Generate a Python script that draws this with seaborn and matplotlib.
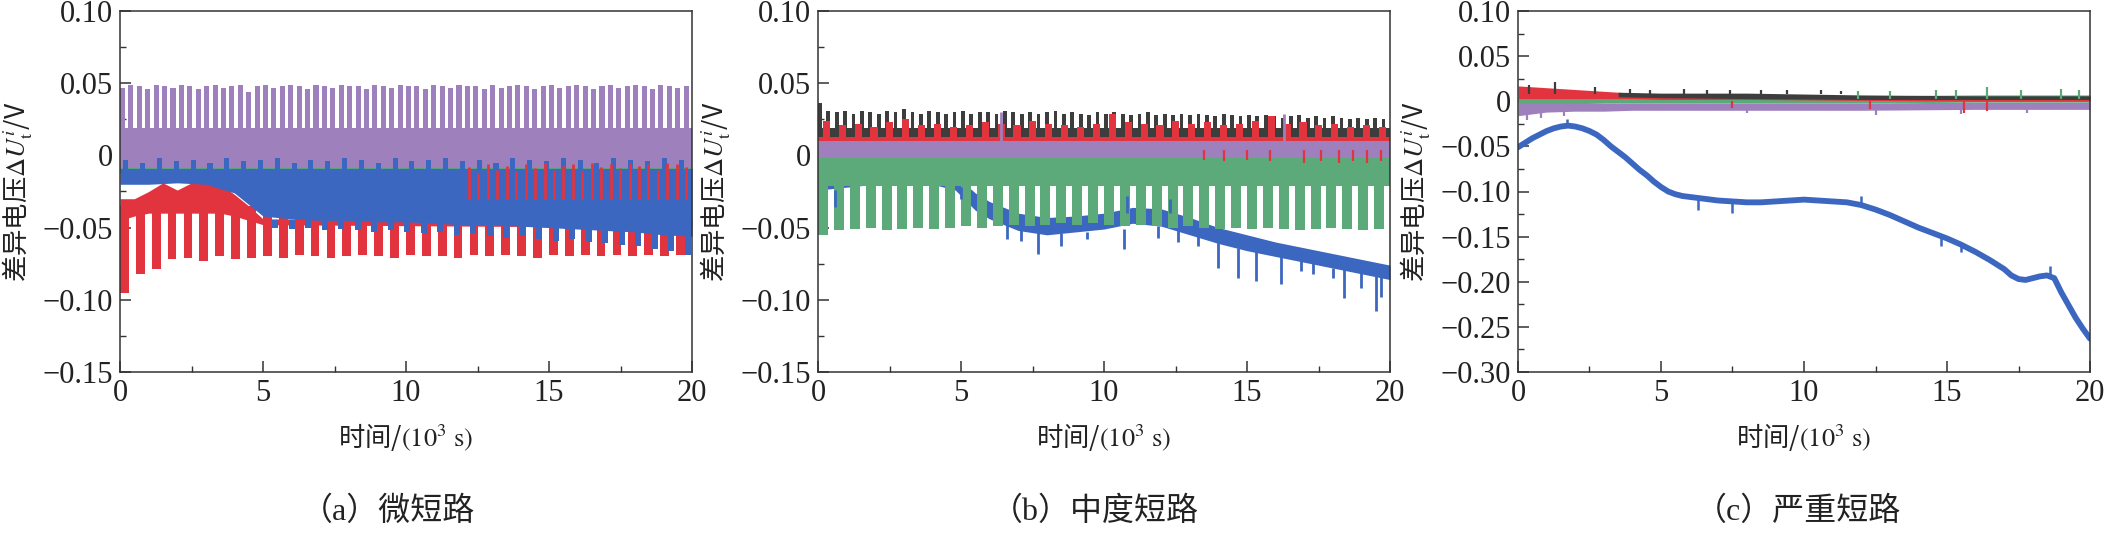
import numpy as np
import matplotlib
matplotlib.use('Agg')
import matplotlib.pyplot as plt
import seaborn as sns
from matplotlib.ticker import MultipleLocator, FuncFormatter
from matplotlib.font_manager import FontProperties

# ---------------- data (time in 10^3 s, voltage in V) ----------------
PURPLE = '#9d80bc'
BLUE = '#3c67c0'
RED = '#e2343f'
GREEN = '#5caa79'
BLACK = '#3d3d3d'

T21 = list(range(21))

# (a) micro short circuit
a_purple_lo = -0.009
a_purple_hi = 0.019
a_purple_peak = [
    0.047, 0.049, 0.048, 0.046, 0.049, 0.048, 0.047, 0.049, 0.048, 0.046,
    0.048, 0.049, 0.047, 0.048, 0.049, 0.044, 0.048, 0.049, 0.047, 0.048,
    0.049, 0.048, 0.046, 0.049, 0.048, 0.047, 0.049, 0.048, 0.048, 0.046,
    0.049, 0.048, 0.047, 0.049, 0.048, 0.048, 0.046, 0.049, 0.048, 0.047,
    0.049, 0.048, 0.048, 0.046, 0.049, 0.047, 0.048, 0.049, 0.048, 0.046,
    0.048, 0.049, 0.047, 0.048, 0.049, 0.048, 0.046, 0.048, 0.049, 0.047,
    0.048, 0.049, 0.048, 0.046, 0.049, 0.048, 0.047, 0.048]
a_blue_hi = -0.009
a_blue_lo = [-0.020, -0.020, -0.019, -0.020, -0.026, -0.042, -0.044, -0.045, -0.045, -0.046,
             -0.046, -0.047, -0.048, -0.048, -0.049, -0.050, -0.051, -0.052, -0.053, -0.055, -0.056]
a_blue_tip = [
    -0.003, -0.005, -0.002, -0.004, -0.003, -0.005, -0.002, -0.004, -0.003, -0.002,
    -0.005, -0.003, -0.004, -0.002, -0.003, -0.005, -0.002, -0.004, -0.003, -0.002,
    -0.004, -0.003, -0.005, -0.002, -0.003, -0.004, -0.002, -0.003, -0.005, -0.002,
    -0.003, -0.004, -0.002, -0.003]
a_blue_comb = [
    -0.050, -0.051, -0.050, -0.052, -0.051, -0.052, -0.053, -0.052, -0.053, -0.054,
    -0.053, -0.055, -0.054, -0.056, -0.057, -0.056, -0.058, -0.059, -0.058, -0.060,
    -0.061, -0.062, -0.063, -0.065, -0.066, -0.069]
a_red_t = [0, 0.5, 1, 1.5, 2, 2.5, 3, 3.5, 4, 4.5, 5, 20]
a_red_hi = [-0.030, -0.030, -0.025, -0.019, -0.024, -0.019, -0.019, -0.020, -0.027, -0.035, -0.044, -0.044]
a_red_lo = [-0.045, -0.042, -0.040, -0.040, -0.040, -0.040, -0.040, -0.040, -0.042, -0.045, -0.048, -0.050]
a_red_comb = [
    -0.095, -0.082, -0.079, -0.072, -0.071, -0.073, -0.070, -0.072, -0.071, -0.070,
    -0.071, -0.069, -0.070, -0.071, -0.070, -0.069, -0.070, -0.071, -0.069, -0.070,
    -0.070, -0.071, -0.069, -0.070, -0.069, -0.070, -0.071, -0.069, -0.070, -0.069,
    -0.070, -0.069, -0.070, -0.069, -0.070, -0.069]
a_red_up = [
    -0.008, -0.012, -0.006, -0.010, -0.007, -0.011, -0.006, -0.009, -0.005, -0.010,
    -0.007, -0.006, -0.011, -0.005, -0.008, -0.006, -0.009, -0.005, -0.007, -0.006,
    -0.010, -0.005, -0.006, -0.008]
a_green_lo, a_green_hi = -0.012, -0.003
a_black_lo, a_black_hi = -0.010, -0.004

# (b) moderate short circuit
b_black_lo, b_black_hi = 0.011, 0.019
b_black_peak = [
    0.036, 0.031, 0.030, 0.031, 0.029, 0.031, 0.030, 0.029, 0.031, 0.030,
    0.032, 0.030, 0.029, 0.031, 0.030, 0.029, 0.030, 0.031, 0.029, 0.030,
    0.030, 0.029, 0.031, 0.030, 0.029, 0.030, 0.029, 0.030, 0.031, 0.029,
    0.030, 0.029, 0.028, 0.030, 0.029, 0.030, 0.029, 0.028, 0.029, 0.030,
    0.028, 0.029, 0.028, 0.029, 0.028, 0.029, 0.028, 0.027, 0.029, 0.028,
    0.027, 0.028, 0.027, 0.028, 0.027, 0.026, 0.027, 0.028, 0.026, 0.027,
    0.026, 0.027, 0.026, 0.025, 0.026, 0.025, 0.026, 0.025]
b_red_lo, b_red_hi = 0.004, 0.013
b_red_peak = [
    0.024, 0.021, 0.022, 0.020, 0.023, 0.025, 0.021, 0.022, 0.020, 0.021,
    0.023, 0.022, 0.021, 0.024, 0.022, 0.021, 0.020, 0.022, 0.029, 0.023,
    0.022, 0.021, 0.024, 0.022, 0.023, 0.021, 0.022, 0.024, 0.027, 0.022,
    0.023, 0.021, 0.022, 0.020, 0.021, 0.020]
b_red_dip_t = [13.5, 14.2, 15.0, 15.8, 17.0, 17.6, 18.2, 18.7, 19.2, 19.7]
b_red_dip_v = [-0.003, -0.004, -0.003, -0.004, -0.005, -0.004, -0.005, -0.004, -0.005, -0.004]
b_purple_lo, b_purple_hi = -0.002, 0.010
b_purple_spike_t = [6.4, 16.3]
b_purple_spike_v = [0.030, 0.029]
b_green_lo, b_green_hi = -0.021, -0.001
b_green_peak = [
    -0.055, -0.052, -0.051, -0.050, -0.052, -0.051, -0.050, -0.051, -0.050, -0.049,
    -0.050, -0.049, -0.048, -0.049, -0.048, -0.047, -0.048, -0.047, -0.048, -0.049,
    -0.048, -0.049, -0.050, -0.049, -0.050, -0.051, -0.050, -0.051, -0.050, -0.051,
    -0.052, -0.051, -0.050, -0.051, -0.052, -0.051]
b_blue_t = [0, 1, 2, 3, 4, 4.8, 5.5, 6, 7, 8, 9, 10, 11, 12, 13, 14, 15, 16, 17, 18, 19, 20]
b_blue_hi = [-0.012, -0.012, -0.012, -0.012, -0.012, -0.014, -0.026, -0.032, -0.040, -0.043, -0.042,
             -0.040, -0.036, -0.037, -0.043, -0.050, -0.055, -0.060, -0.064, -0.068, -0.072, -0.076]
b_blue_lo = [-0.024, -0.022, -0.020, -0.020, -0.020, -0.024, -0.038, -0.044, -0.052, -0.055, -0.053,
             -0.051, -0.047, -0.049, -0.055, -0.061, -0.066, -0.070, -0.074, -0.078, -0.082, -0.086]
b_blue_spike_t = [0.6, 5.0, 6.6, 7.1, 7.7, 8.5, 9.4, 10.7, 10.8, 11.9, 12.3, 12.6, 13.3, 14.0,
                  14.7, 15.3, 16.2, 16.9, 17.3, 18.0, 18.4, 19.0, 19.5, 19.7]
b_blue_spike_a = [-0.024, -0.030, -0.044, -0.048, -0.052, -0.054, -0.053, -0.051, -0.040, -0.049,
                  -0.040, -0.050, -0.054, -0.060, -0.064, -0.066, -0.070, -0.072, -0.074, -0.078,
                  -0.079, -0.081, -0.083, -0.084]
b_blue_spike_b = [-0.036, -0.022, -0.058, -0.059, -0.068, -0.063, -0.058, -0.065, -0.028, -0.057,
                  -0.030, -0.060, -0.063, -0.078, -0.085, -0.087, -0.089, -0.080, -0.082, -0.085,
                  -0.099, -0.092, -0.108, -0.098]

# (c) severe short circuit
T_C = [0, 1, 2, 3, 4, 5, 8, 12, 16, 20]
c_red_lo = [0.003, 0.003, 0.003, 0.003, 0.003, 0.002, 0.002, 0.001, 0.000, 0.000]
c_red_hi = [0.017, 0.015, 0.013, 0.011, 0.009, 0.007, 0.006, 0.005, 0.005, 0.005]
c_red_dip_t = [7.5, 12.3, 15.6, 16.4]
c_red_dip_v = [-0.008, -0.009, -0.013, -0.011]
c_black_t = [3.5, 5, 8, 12, 16, 20]
c_black_lo = [0.005, 0.004, 0.003, 0.002, 0.002, 0.002]
c_black_hi = [0.010, 0.009, 0.009, 0.007, 0.006, 0.006]
c_black_spike_t = [0.4, 1.3, 2.7, 3.9, 4.6, 5.8, 6.6, 7.4, 8.5, 9.4, 10.6, 11.3]
c_black_spike_v = [0.018, 0.021, 0.016, 0.014, 0.013, 0.014, 0.013, 0.012, 0.013, 0.012, 0.012, 0.011]
c_green_lo = [-0.002, -0.002, -0.002, -0.002, -0.002, -0.002, -0.002, -0.002, -0.001, -0.001]
c_green_hi = [0.004, 0.004, 0.004, 0.004, 0.004, 0.004, 0.005, 0.006, 0.007, 0.007]
c_green_spike_t = [11.9, 13.0, 14.6, 15.3, 16.4, 17.6, 19.0, 19.6]
c_green_spike_v = [0.011, 0.011, 0.012, 0.013, 0.016, 0.012, 0.014, 0.012]
c_purple_lo = [-0.016, -0.012, -0.011, -0.011, -0.010, -0.010, -0.010, -0.010, -0.009, -0.009]
c_purple_hi = [-0.001, -0.001, -0.001, -0.002, -0.002, -0.002, -0.002, -0.002, -0.001, -0.001]
c_purple_dip_t = [0.3, 0.8, 1.6, 8.0, 12.5, 15.5, 17.8]
c_purple_dip_v = [-0.021, -0.019, -0.016, -0.013, -0.015, -0.014, -0.013]
c_blue_t = [0, 0.25, 0.5, 0.75, 1.0, 1.25, 1.5, 1.75, 2.0, 2.25, 2.5, 2.75, 3.0, 3.25, 3.5, 3.75,
            4.0, 4.25, 4.5, 4.75, 5.0, 5.25, 5.5, 5.75, 6.0, 6.5, 7.0, 7.5, 8.0, 8.5, 9.0, 9.5,
            10.0, 10.5, 11.0, 11.5, 12.0, 12.5, 13.0, 13.5, 14.0, 14.5, 15.0, 15.5, 16.0, 16.5,
            17.0, 17.25, 17.5, 17.75, 18.0, 18.25, 18.5, 18.75, 19.0, 19.25, 19.5, 19.75, 20.0]
c_blue_v = [-0.051, -0.046, -0.041, -0.037, -0.033, -0.030, -0.028, -0.027, -0.028, -0.030,
            -0.033, -0.037, -0.043, -0.050, -0.056, -0.062, -0.069, -0.076, -0.082, -0.089,
            -0.095, -0.100, -0.103, -0.105, -0.106, -0.108, -0.110, -0.111, -0.112, -0.112,
            -0.111, -0.110, -0.109, -0.110, -0.111, -0.112, -0.115, -0.120, -0.126, -0.133,
            -0.140, -0.146, -0.152, -0.159, -0.167, -0.176, -0.186, -0.193, -0.197, -0.198,
            -0.196, -0.194, -0.193, -0.196, -0.212, -0.226, -0.240, -0.252, -0.263]
c_blue_spike_t = [1.7, 6.3, 7.5, 12.0, 14.8, 15.5, 18.6]
c_blue_spike_a = [-0.027, -0.107, -0.111, -0.114, -0.150, -0.159, -0.193]
c_blue_spike_b = [-0.020, -0.120, -0.124, -0.105, -0.160, -0.167, -0.182]

CAPTIONS = ['（a）微短路', '（b）中度短路', '（c）严重短路']
YLIMS = [(-0.15, 0.10), (-0.15, 0.10), (-0.30, 0.10)]

# ---------------- style ----------------
sns.set_theme(style='ticks')
plt.rcParams['font.family'] = ['Liberation Serif', 'Noto Sans CJK SC']
plt.rcParams['mathtext.fontset'] = 'stix'
plt.rcParams['axes.unicode_minus'] = True

W, H = 2107, 541
fig = plt.figure(figsize=(W / 100, H / 100), dpi=100)
fig.patch.set_facecolor('white')
lefts = [120, 818, 1518]
axes = [fig.add_axes([l / W, (H - 372) / H, 572 / W, 361 / H]) for l in lefts]


def band(ax, t, lo, hi, color):
    lo = np.broadcast_to(np.asarray(lo, float), np.shape(t))
    hi = np.broadcast_to(np.asarray(hi, float), np.shape(t))
    ax.fill_between(t, lo, hi, color=color, linewidth=0)


def comb(ax, t0, t1, peaks, base, frac, color, shift=0.0):
    n = len(peaks)
    period = (t1 - t0) / n
    x = np.linspace(t0, t1, n, endpoint=False) + shift * period
    peaks = np.asarray(peaks)
    ax.bar(x, peaks - base, bottom=base, width=frac * period, color=color,
           linewidth=0, align='edge')


def spikes(ax, t, a, b, color, lw=1.6):
    ax.vlines(t, a, b, color=color, linewidth=lw)


# (a)
ax = axes[0]
band(ax, [0, 20], a_black_lo, a_black_hi, BLACK)
band(ax, [0, 20], a_green_lo, a_green_hi, GREEN)
band(ax, a_red_t, a_red_lo, a_red_hi, RED)
comb(ax, 0, 20, a_red_comb, -0.035, 0.55, RED)
band(ax, T21, a_blue_lo, a_blue_hi, BLUE)
comb(ax, 5.0, 20, a_blue_comb, -0.045, 0.38, BLUE, shift=0.55)
spikes(ax, np.linspace(12.2, 19.8, len(a_red_up)), -0.030, a_red_up, RED, lw=2.0)
band(ax, [0, 20], a_purple_lo, a_purple_hi, PURPLE)
comb(ax, 0, 20, a_purple_peak, 0.015, 0.6, PURPLE)
comb(ax, 0, 20, a_blue_tip, -0.010, 0.3, BLUE, shift=0.2)

# (b)
ax = axes[1]
band(ax, b_blue_t, b_blue_lo, b_blue_hi, BLUE)
spikes(ax, b_blue_spike_t, b_blue_spike_a, b_blue_spike_b, BLUE, lw=2.0)
band(ax, [0, 20], b_green_lo, b_green_hi, GREEN)
comb(ax, 0, 20, b_green_peak, -0.019, 0.63, GREEN)
band(ax, [0, 20], b_black_lo, b_black_hi, BLACK)
comb(ax, 0, 20, b_black_peak, 0.015, 0.45, BLACK)
band(ax, [0, 20], b_red_lo, b_red_hi, RED)
comb(ax, 0, 20, b_red_peak, 0.010, 0.45, RED, shift=0.3)
spikes(ax, b_red_dip_t, 0.004, b_red_dip_v, RED)
band(ax, [0, 20], b_purple_lo, b_purple_hi, PURPLE)
spikes(ax, b_purple_spike_t, 0.008, b_purple_spike_v, PURPLE, lw=2.0)

# (c)
ax = axes[2]
band(ax, T_C, c_purple_lo, c_purple_hi, PURPLE)
spikes(ax, c_purple_dip_t, -0.005, c_purple_dip_v, PURPLE)
band(ax, T_C, c_green_lo, c_green_hi, GREEN)
spikes(ax, c_green_spike_t, 0.003, c_green_spike_v, GREEN)
band(ax, T_C, c_red_lo, c_red_hi, RED)
spikes(ax, c_red_dip_t, 0.0, c_red_dip_v, RED)
band(ax, c_black_t, c_black_lo, c_black_hi, BLACK)
spikes(ax, c_black_spike_t, 0.008, c_black_spike_v, BLACK)
sns.lineplot(x=c_blue_t, y=c_blue_v, ax=ax, color=BLUE, linewidth=4.2)
spikes(ax, c_blue_spike_t, c_blue_spike_a, c_blue_spike_b, BLUE, lw=1.8)


def yfmt(v, pos):
    if abs(v) < 1e-9:
        return '0'
    return f'{v:.2f}'.replace('-', '\u2212')


cjk = FontProperties(family='Noto Sans CJK SC', size=19)
cap_x = [388, 1095, 1798]
for ax, ylim, cap, cx in zip(axes, YLIMS, CAPTIONS, cap_x):
    ax.set_xlim(0, 20)
    ax.set_ylim(*ylim)
    ax.xaxis.set_major_locator(MultipleLocator(5))
    ax.xaxis.set_minor_locator(MultipleLocator(2.5))
    ax.yaxis.set_major_locator(MultipleLocator(0.05))
    ax.yaxis.set_minor_locator(MultipleLocator(0.025))
    ax.yaxis.set_major_formatter(FuncFormatter(yfmt))
    ax.xaxis.set_major_formatter(FuncFormatter(lambda v, p: f'{v:.0f}'))
    ax.tick_params(which='both', direction='in', top=False, right=False,
                   colors='#333333', labelcolor='#222222')
    ax.tick_params(which='major', length=8, width=1.1, labelsize=22, pad=5)
    ax.tick_params(which='minor', length=4.5, width=1.0)
    for sp in ax.spines.values():
        sp.set_visible(True)
        sp.set_linewidth(1.1)
        sp.set_color('#333333')
    ax.set_ylabel('差异电压$\\Delta U_{\\mathrm{t}}^{i}$/V', fontproperties=cjk, color='#222222')
    ax.yaxis.set_label_coords(-0.148, 0.5)
    ax.set_xlabel('时间/$\\mathrm{(10^{3}\\ s)}$', fontproperties=cjk, color='#222222')
    ax.xaxis.set_label_coords(0.5, -0.135)
    fig.text(cx / W, 1 - 512 / H, cap, ha='center', va='center', fontsize=23,
             color='#222222', family=['Liberation Serif', 'Noto Sans CJK SC'])

fig.savefig('out.png', dpi=100, facecolor='white')
